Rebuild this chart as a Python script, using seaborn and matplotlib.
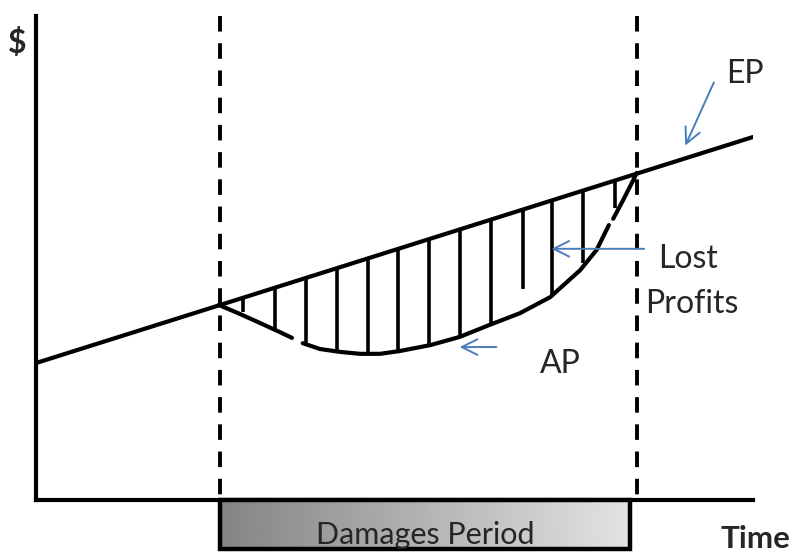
import matplotlib
matplotlib.use("Agg")
import matplotlib.pyplot as plt
import seaborn as sns
import numpy as np
import pandas as pd
from matplotlib.patches import Rectangle

# conceptual units: time 0..100, dollars 0..100
ep_time = [0, 100]
ep_value = [28.3, 75.0]

damages_start = 25.7
damages_end = 83.8
box_end = 82.8

# actual profits, read in three pieces (the curve has small gaps)
ap_segments = [
    ([25.5, 28.5, 31.2, 34.0, 35.7],
     [40.3, 38.4, 36.6, 34.7, 33.5]),
    ([37.2, 39.6, 42.4, 45.2, 48.0, 50.8, 55.0, 59.1, 63.3, 67.5, 71.7, 75.9, 78.2, 79.9],
     [32.4, 31.2, 30.6, 30.2, 30.2, 30.8, 32.0, 33.7, 36.2, 38.6, 41.9, 47.5, 51.7, 56.8]),
    ([80.5, 81.9, 83.1, 83.8],
     [58.1, 62.0, 65.5, 67.6]),
]

hatch_time = [28.9, 33.3, 37.7, 42.0, 46.3, 50.5, 54.8, 59.1, 63.5, 67.9, 72.0, 76.3, 80.8]
hatch_bottom = [38.8, 35.3, 32.0, 30.8, 30.2, 30.8, 31.8, 33.7, 36.0, 43.6, 41.9, 49.0, 60.3]

blue = "#4a7ebb"

sns.set_style("white")
plt.rcParams["font.family"] = ["Lato", "DejaVu Sans"]

fig = plt.figure(figsize=(7.96, 5.52), dpi=100)
ax = fig.add_axes([36 / 796, 52 / 552, 717 / 796, 484 / 552])
ax.set_xticks([])
ax.set_yticks([])
for side in ["top", "right"]:
    ax.spines[side].set_visible(False)
for side in ["left", "bottom"]:
    ax.spines[side].set_linewidth(3)
    ax.spines[side].set_color("black")

# expected profits line
sns.lineplot(x=ep_time, y=ep_value, ax=ax, color="black", linewidth=3)

# actual profits curve
for seg_t, seg_v in ap_segments:
    seg = pd.DataFrame({"t": seg_t, "v": seg_v})
    sns.lineplot(data=seg, x="t", y="v", ax=ax, color="black", linewidth=3,
                 sort=False, estimator=None)

# hatching between EP and AP
hatch_top = np.interp(hatch_time, ep_time, ep_value)
ax.vlines(hatch_time, hatch_bottom, hatch_top, color="black", linewidth=2.6)

# damages period boundaries
for x in [damages_start, damages_end]:
    ax.plot([x, x], [100, 0], color="black", linewidth=2.8,
            linestyle=(0, (4, 3)), clip_on=False)

# damages period box with gradient
grad = np.linspace(0, 1, 256).reshape(1, -1)
ax.imshow(grad, extent=(damages_start, box_end, -10.1, 0), aspect="auto",
          cmap="gray", vmin=-1.4, vmax=1.3, clip_on=False, zorder=3)
ax.add_patch(Rectangle((damages_start, -10.1), box_end - damages_start, 10.1,
                       fill=False, edgecolor="black", linewidth=3.2,
                       clip_on=False, zorder=4))
ax.set_xlim(0, 100)
ax.set_ylim(0, 100)
ax.text((damages_start + box_end) / 2, -9.0, "Damages Period", fontsize=22,
        ha="center", va="baseline", clip_on=False, zorder=5)

# arrows
arrow_kw = dict(arrowstyle="->", color=blue, lw=1.4, mutation_scale=28)
ax.annotate("", xy=(90.4, 72.7), xytext=(94.7, 86.8), arrowprops=arrow_kw,
            annotation_clip=False)
ax.annotate("", xy=(71.5, 51.9), xytext=(85.2, 51.9), arrowprops=arrow_kw,
            annotation_clip=False)
ax.annotate("", xy=(58.7, 31.6), xytext=(64.6, 31.6), arrowprops=arrow_kw,
            annotation_clip=False)

# labels
ax.text(98.9, 88.0, "EP", fontsize=23, ha="center", va="center", clip_on=False)
ax.text(90.9, 49.8, "Lost", fontsize=23, ha="center", va="center", clip_on=False)
ax.text(91.4, 40.5, "Profits", fontsize=23, ha="center", va="center", clip_on=False)
ax.text(73.1, 28.1, "AP", fontsize=23, ha="center", va="center", clip_on=False)
ax.text(-2.6, 94.4, "$", fontsize=23, fontweight="bold", ha="center", va="center",
        clip_on=False)
ax.text(100.4, -10.0, "Time", fontsize=22.5, fontweight="bold", ha="center",
        va="baseline", clip_on=False)

fig.savefig("out.png", dpi=100)
